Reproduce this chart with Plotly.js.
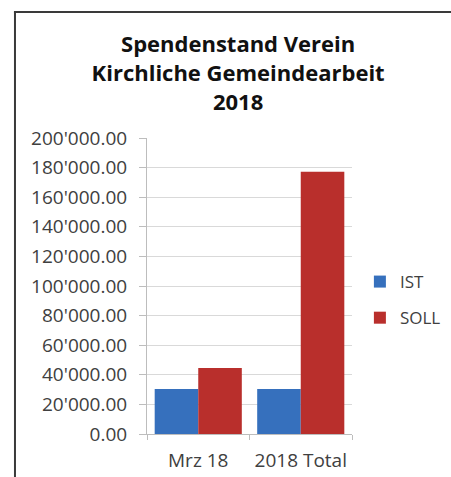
<!DOCTYPE html>
<html>
<head>
<meta charset="utf-8">
<script src="https://cdn.plot.ly/plotly-3.0.1.min.js"></script>
<style>
  html, body { margin: 0; padding: 0; background: #ffffff; overflow: hidden; }
  #chart { width: 451px; height: 477px; }
</style>
</head>
<body>
<div id="chart"></div>
<script>
const categories = ["Mrz 18", "2018 Total"];
const istValues = [30400, 30400];
const sollValues = [44600, 177200];
const seriesNames = ["IST", "SOLL"];
const titleLines = ["Spendenstand Verein", "Kirchliche Gemeindearbeit", "2018"];

const font = "Open Sans, Noto Sans, sans-serif";

const traces = [
  { type: "bar", name: seriesNames[0], x: categories, y: istValues,
    marker: { color: "#3670bd" }, legendgroup: "a" },
  { type: "bar", name: seriesNames[1], x: categories, y: sollValues,
    marker: { color: "#b92f2c" }, legendgroup: "b" }
];

const frameLine = { color: "#3a3a3a", width: 2 };
const axisGray = "#bdbdbd";

const layout = {
  width: 451, height: 477,
  paper_bgcolor: "#ffffff", plot_bgcolor: "#ffffff",
  separators: ".'",
  margin: { l: 147, r: 99, t: 138, b: 43, autoexpand: false },
  title: { text: titleLines.join("<br>"), x: 0.528, xanchor: "center", y: 0.89, yanchor: "middle",
           font: { family: font, size: 22, color: "#111111", weight: "bold" } },
  barmode: "group", bargap: 0.15, bargroupgap: 0,
  showlegend: true,
  legend: { xref: "container", yref: "container", x: 0.798, xanchor: "left", y: 0.371, yanchor: "middle",
            traceorder: "grouped", tracegroupgap: 11,
            font: { family: font, size: 17, color: "#404040" } },
  xaxis: { type: "category", tickson: "boundaries", ticks: "outside", ticklen: 5,
           tickcolor: axisGray, showline: true, linecolor: axisGray, linewidth: 1,
           showgrid: false, ticklabelstandoff: 9,
           tickfont: { family: font, size: 19, color: "#404040" } },
  yaxis: { range: [0, 200000], dtick: 20000, tickformat: ",.2f", ticks: "outside", ticklen: 7,
           tickcolor: axisGray, showline: true, linecolor: axisGray, linewidth: 1,
           gridcolor: "#d9d9d9", zeroline: false, ticklabelstandoff: 8,
           tickfont: { family: font, size: 19, color: "#404040" } },
  shapes: [
    { type: "line", xref: "paper", yref: "paper", x0: -0.644, x1: -0.644, y0: 1.426, y1: -0.2, line: frameLine },
    { type: "line", xref: "paper", yref: "paper", x0: -0.649, x1: 1.6, y0: 1.426, y1: 1.426, line: frameLine }
  ]
};

Plotly.newPlot("chart", traces, layout, { displayModeBar: false, staticPlot: true });
</script>
</body>
</html>
